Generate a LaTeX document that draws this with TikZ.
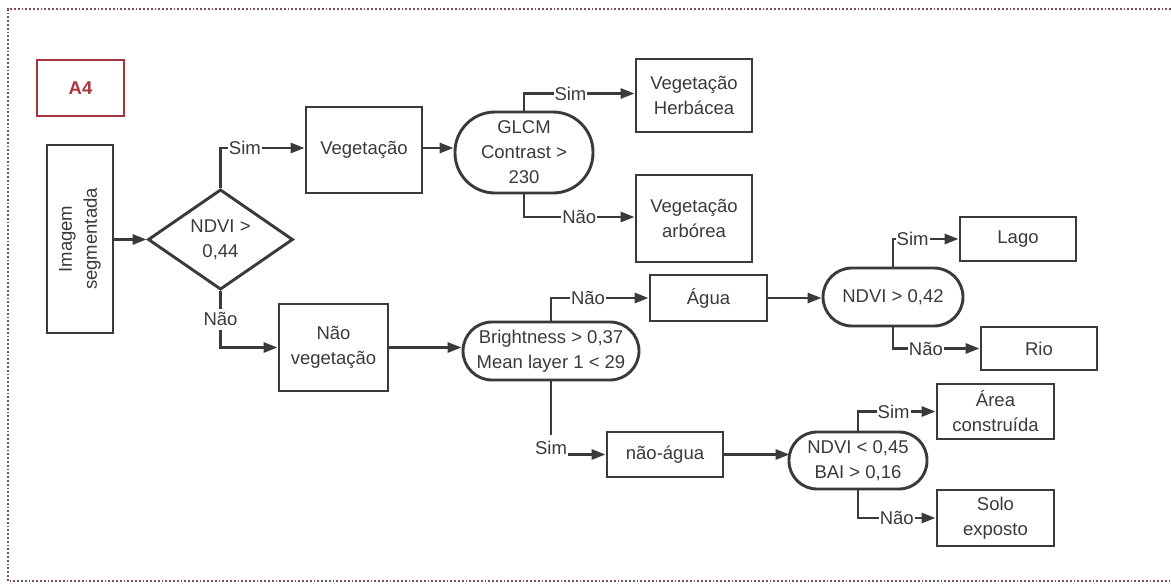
\documentclass[tikz,border=0pt]{standalone}
\usepackage{fontspec}
\setmainfont{Liberation Sans}
\usetikzlibrary{arrows.meta,shapes.geometric,calc}
\definecolor{ln}{HTML}{3A3A3A}
\definecolor{tx}{HTML}{3A3A3A}
\definecolor{rd}{HTML}{A8343C}
\definecolor{frm}{HTML}{7A5054}
\tikzset{
  every node/.style={font=\fontsize{18.5}{25}\selectfont, text=tx, align=center},
  box/.style={draw=ln, line width=2.9pt, rectangle, fill=white, inner sep=0pt},
  stad/.style={draw=ln, line width=2.9pt, rectangle, fill=white, inner sep=0pt},
  con/.style={draw=ln, line width=2.9pt},
  arr/.style={con, -{Triangle[length=14pt,width=10pt]}},
  lbl/.style={fill=white, inner sep=1pt}
}
\begin{document}
\begin{tikzpicture}[x=1pt,y=-1pt]
\useasboundingbox (0,0) rectangle (1171,584);
\fill[white] (0,0) rectangle (1171,584);
% frame
\draw[frm, line width=2pt, dash pattern=on 1.8pt off 2pt] (1171,9) -- (8,9) -- (8,581) -- (1171,581);
% nodes
\node[draw=rd, line width=2.6pt, minimum width=87pt, minimum height=56pt, inner sep=0pt, text=rd, font=\fontsize{18.5}{22}\selectfont\bfseries] (a4) at (80.5,88) {A4};
\node[box, minimum width=66pt, minimum height=188pt] (img) at (80,239) {};
\node[rotate=90] at (img.center) {Imagem\\segmentada};
\node[draw=ln, line width=2.9pt, diamond, minimum width=145pt, minimum height=99pt, inner sep=0pt, fill=white] (d1) at (220.5,239.5) {NDVI >\\0,44};
\node[box, minimum width=116pt, minimum height=86pt] (veg) at (364,150) {Vegetação};
\node[stad, minimum width=138pt, minimum height=81pt, rounded corners=40pt] (glcm) at (524,152.5) {GLCM\\Contrast >\\230};
\node[box, minimum width=116pt, minimum height=73pt] (herb) at (694,95.5) {Vegetação\\Herbácea};
\node[box, minimum width=116pt, minimum height=87pt] (arb) at (694,218.5) {Vegetação\\arbórea};
\node[box, minimum width=109pt, minimum height=87pt] (nveg) at (333.5,347.5) {Não\\vegetação};
\node[stad, minimum width=176pt, minimum height=58pt, rounded corners=29pt] (bright) at (551,351) {Brightness > 0,37\\Mean layer 1 < 29};
\node[box, minimum width=117pt, minimum height=46pt] (agua) at (708.5,298) {Água};
\node[stad, minimum width=140pt, minimum height=58pt, rounded corners=29pt] (n42) at (893,297) {NDVI > 0,42};
\node[box, minimum width=116pt, minimum height=44pt] (lago) at (1018,239) {Lago};
\node[box, minimum width=116pt, minimum height=43pt] (rio) at (1039,348.5) {Rio};
\node[box, minimum width=116pt, minimum height=45pt] (nagua) at (665,454.5) {não-água};
\node[stad, minimum width=138pt, minimum height=57pt, rounded corners=28pt] (n45) at (858,460.5) {NDVI < 0,45\\BAI > 0,16};
\node[box, minimum width=117pt, minimum height=55pt] (area) at (995.5,411.5) {Área\\construída};
\node[box, minimum width=117pt, minimum height=56pt] (solo) at (995.5,518) {Solo\\exposto};
% connectors
\draw[arr] (img.east |- d1.west) -- (d1.west);
\draw[arr] (d1.north) |- node[lbl, pos=0.645] {Sim} ($(veg.west)+(0,-2)$);
\draw[arr] ($(veg.east)+(0,-2)$) -- ($(veg.east -| glcm.west)+(0,-2)$);
\draw[arr] (glcm.north) |- node[lbl, pos=0.71] {Sim} ($(herb.west)+(0,-2)$);
\draw[arr] (glcm.south) |- node[lbl, pos=0.75] {Não} ($(arb.west)+(0,-1.5)$);
\draw[arr] (d1.south) |- node[lbl, pos=0.25, inner ysep=4pt] {Não} (nveg.west);
\draw[arr] (nveg.east) -- (nveg.east -| bright.west);
\draw[arr] (bright.north) |- node[lbl, pos=0.69] {Não} (agua.west);
\draw[arr] (agua.east) -- (agua.east -| n42.west);
\draw[arr] (n42.north) |- node[lbl, pos=0.65] {Sim} (lago.west);
\draw[arr] (n42.south) |- node[lbl, pos=0.69] {Não} (rio.west);
\draw[arr] (bright.south) |- node[lbl, pos=0.5, yshift=7pt, minimum width=34pt, minimum height=26pt] {Sim} (nagua.west);
\draw[arr] (nagua.east) -- ($(nagua.east -| n45.west)+(2,0)$);
\draw[arr] (n45.north) |- node[lbl, pos=0.73] {Sim} (area.west);
\draw[arr] (n45.south) |- node[lbl, pos=0.75] {Não} (solo.west);
\end{tikzpicture}
\end{document}
